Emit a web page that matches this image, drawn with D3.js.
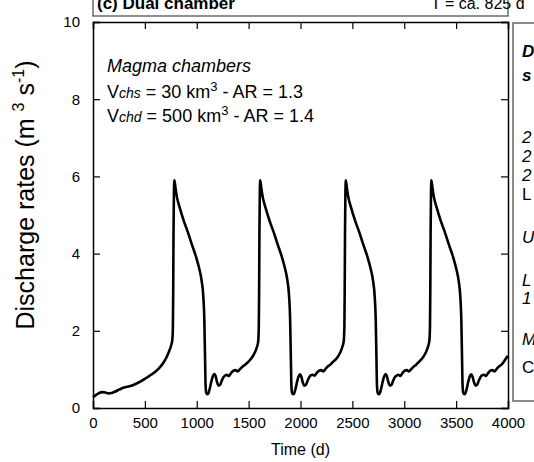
<!DOCTYPE html>
<html>
<head>
<meta charset="utf-8">
<script src="https://cdn.jsdelivr.net/npm/d3@7"></script>
<style>
  html, body { margin: 0; padding: 0; background: #fff; }
  svg { display: block; font-family: "Liberation Sans", Arial, sans-serif; }
</style>
</head>
<body>
<svg id="chart" width="534" height="462"></svg>
<script>
// ---- data ----
const xTicks = [0, 500, 1000, 1500, 2000, 2500, 3000, 3500, 4000];
const yTicks = [0, 2, 4, 6, 8, 10];
const time = [
  0, 30, 60, 90, 120, 150, 180, 210, 240, 270, 300, 330, 360, 400, 440, 480, 520, 560, 600, 640, 680, 710, 735, 755, 765, 770, 773, 776, 780, 785,
  795, 810, 835, 875, 915, 955, 995, 1025, 1047, 1063, 1073, 1080, 1085, 1091, 1100, 1112, 1125, 1140, 1155, 1168, 1180, 1195, 1210, 1225, 1240, 1258, 1275, 1290, 1310, 1330, 1350, 1375, 1395, 1415, 1440, 1465, 1490, 1515, 1540, 1560, 1580, 1592, 1598, 1601, 1604, 1608, 1612,
  1622, 1637, 1662, 1702, 1742, 1782, 1822, 1852, 1874, 1890, 1900, 1907, 1912, 1918, 1927, 1939, 1952, 1967, 1982, 1995, 2007, 2022, 2037, 2052, 2067, 2085, 2102, 2118, 2137, 2157, 2177, 2200, 2220, 2240, 2265, 2290, 2315, 2340, 2365, 2385, 2405, 2417, 2423, 2426, 2429, 2433, 2437,
  2447, 2462, 2487, 2527, 2567, 2607, 2647, 2677, 2699, 2715, 2725, 2732, 2737, 2743, 2752, 2764, 2777, 2792, 2807, 2820, 2832, 2847, 2862, 2877, 2892, 2910, 2927, 2943, 2962, 2982, 3002, 3025, 3045, 3065, 3090, 3115, 3140, 3165, 3190, 3210, 3230, 3242, 3248, 3251, 3254, 3258, 3262,
  3272, 3287, 3312, 3352, 3392, 3432, 3472, 3502, 3524, 3540, 3550, 3557, 3562, 3568, 3577, 3589, 3602, 3617, 3632, 3645, 3657, 3672, 3687, 3702, 3717, 3735, 3752, 3768, 3787, 3807, 3827, 3850, 3870, 3890, 3915, 3940, 3965, 3985, 4000
];
const discharge = [
  0.28, 0.34, 0.39, 0.41, 0.40, 0.38, 0.39, 0.42, 0.46, 0.50, 0.53, 0.55, 0.57, 0.61, 0.66, 0.72, 0.79, 0.86, 0.94, 1.04, 1.18, 1.32, 1.48, 1.64, 1.78, 2.1, 3.0, 4.5, 5.6, 5.9,
  5.7, 5.45, 5.2, 4.85, 4.55, 4.22, 3.9, 3.6, 3.3, 2.9, 2.3, 1.3, 0.6, 0.4, 0.36, 0.38, 0.5, 0.68, 0.82, 0.88, 0.84, 0.68, 0.58, 0.6, 0.7, 0.8, 0.84, 0.86, 0.83, 0.9, 0.96, 0.98, 0.95, 1.0, 1.07, 1.12, 1.18, 1.25, 1.34, 1.44, 1.58, 1.72, 2.1, 3.0, 4.5, 5.6, 5.9,
  5.7, 5.45, 5.2, 4.85, 4.55, 4.22, 3.9, 3.6, 3.3, 2.9, 2.3, 1.3, 0.6, 0.4, 0.36, 0.38, 0.5, 0.68, 0.82, 0.87, 0.82, 0.66, 0.58, 0.6, 0.7, 0.8, 0.85, 0.86, 0.84, 0.91, 0.96, 0.98, 0.95, 1.01, 1.08, 1.13, 1.2, 1.26, 1.35, 1.45, 1.6, 1.74, 2.1, 3.0, 4.5, 5.6, 5.9,
  5.7, 5.45, 5.2, 4.85, 4.55, 4.22, 3.9, 3.6, 3.3, 2.9, 2.3, 1.3, 0.6, 0.4, 0.36, 0.38, 0.5, 0.68, 0.82, 0.88, 0.83, 0.67, 0.58, 0.6, 0.7, 0.8, 0.84, 0.86, 0.83, 0.9, 0.96, 0.98, 0.95, 1.0, 1.07, 1.12, 1.19, 1.26, 1.35, 1.45, 1.6, 1.74, 2.1, 3.0, 4.5, 5.6, 5.9,
  5.7, 5.45, 5.2, 4.85, 4.55, 4.22, 3.9, 3.6, 3.3, 2.9, 2.3, 1.3, 0.6, 0.4, 0.36, 0.38, 0.5, 0.68, 0.82, 0.87, 0.82, 0.67, 0.58, 0.6, 0.7, 0.8, 0.85, 0.86, 0.83, 0.9, 0.96, 0.98, 0.95, 1.01, 1.08, 1.13, 1.22, 1.3, 1.35
];
const panelTitle = "(c) Dual chamber";
const periodLabel = "T = ca. 825 d";
const sideNotes = [
  {text: "Data used", style: "bi"},
  {text: "s imulations", style: "bi"},
  {text: "2", style: "i"},
  {text: "2", style: "i"},
  {text: "2", style: "i"},
  {text: "L", style: "n"},
  {text: "U", style: "i"},
  {text: "L", style: "i"},
  {text: "1", style: "i"},
  {text: "M", style: "i"},
  {text: "C", style: "n"}
];
const sideBaselines = [57, 81, 143, 162, 181, 200, 243, 286, 304, 345, 373];

// ---- layout ----
const svg = d3.select("#chart");
const m = {left: 93, right: 508, top: 22, bottom: 408};
const x = d3.scaleLinear().domain([0, 4000]).range([m.left, m.right]);
const y = d3.scaleLinear().domain([0, 10]).range([m.bottom, m.top]);

// title box
svg.append("rect").attr("x", 93).attr("y", -10).attr("width", 415).attr("height", 26)
  .attr("fill", "#fff").attr("stroke", "#555").attr("stroke-width", 1.3);
svg.append("text").attr("x", 97).attr("y", 9).attr("font-size", 17).attr("font-weight", "bold")
  .text(panelTitle);
svg.append("text").attr("x", 431).attr("y", 9).attr("font-size", 16).text(periodLabel);

// right side box
svg.append("rect").attr("x", 513).attr("y", 23).attr("width", 60).attr("height", 378)
  .attr("fill", "#fff").attr("stroke", "#666").attr("stroke-width", 1.5);
sideNotes.forEach((d, i) => {
  svg.append("text").attr("x", 522).attr("y", sideBaselines[i]).attr("font-size", 17)
    .attr("font-weight", d.style === "bi" ? "bold" : "normal")
    .attr("font-style", d.style === "n" ? "normal" : "italic")
    .text(d.text);
});

// axes
const fmt = d3.format("d");
const gx = svg.append("g").attr("transform", `translate(0,${m.bottom})`)
  .call(d3.axisBottom(x).tickValues(xTicks).tickSize(-7).tickPadding(9).tickFormat(fmt));
const gxt = svg.append("g").attr("transform", `translate(0,${m.top})`)
  .call(d3.axisTop(x).tickValues(xTicks).tickSize(-7).tickFormat(""));
const gy = svg.append("g").attr("transform", `translate(${m.left},0)`)
  .call(d3.axisLeft(y).tickValues(yTicks).tickSize(-7).tickPadding(13).tickFormat(fmt));
const gyr = svg.append("g").attr("transform", `translate(${m.right},0)`)
  .call(d3.axisRight(y).tickValues(yTicks).tickSize(-7).tickFormat(""));
[gx, gxt, gy, gyr].forEach(g => {
  g.select(".domain").attr("stroke", "#000").attr("stroke-width", 1.5);
  g.selectAll(".tick line").attr("stroke", "#000").attr("stroke-width", 1.2);
  g.selectAll("text").attr("font-size", 15).attr("fill", "#000")
    .attr("font-family", "'Liberation Sans', Arial, sans-serif");
});

// line
const pts = time.map((t, i) => [t, discharge[i]]);
const line = d3.line().x(d => x(d[0])).y(d => y(d[1])).curve(d3.curveMonotoneX);
svg.append("path").datum(pts).attr("d", line).attr("fill", "none")
  .attr("stroke", "#000").attr("stroke-width", 2.6).attr("stroke-linejoin", "round");

// annotation
const ann = svg.append("g").attr("font-size", 18);
ann.append("text").attr("x", 107).attr("y", 72).attr("font-style", "italic").text("Magma chambers");
const l1 = ann.append("text").attr("x", 107).attr("y", 98);
l1.append("tspan").text("V");
l1.append("tspan").attr("font-style", "italic").attr("font-size", 14).text("chs");
l1.append("tspan").text(" = 30 km");
l1.append("tspan").attr("font-size", 13).attr("dy", -7).text("3");
l1.append("tspan").attr("dy", 7).text("  - AR = 1.3");
const l2 = ann.append("text").attr("x", 107).attr("y", 122);
l2.append("tspan").text("V");
l2.append("tspan").attr("font-style", "italic").attr("font-size", 14).text("chd");
l2.append("tspan").text(" = 500 km");
l2.append("tspan").attr("font-size", 13).attr("dy", -7).text("3");
l2.append("tspan").attr("dy", 7).text(" - AR = 1.4");

// axis titles
svg.append("text").attr("x", (m.left + m.right) / 2).attr("y", 455).attr("text-anchor", "middle")
  .attr("font-size", 16).text("Time (d)");
const yl = svg.append("text").attr("transform", "translate(34,195) rotate(-90)")
  .attr("text-anchor", "middle").attr("font-size", 25);
yl.append("tspan").text("Discharge rates (m ");
yl.append("tspan").attr("font-size", 16).attr("dy", -10).text("3");
yl.append("tspan").attr("dy", 10).text(" s");
yl.append("tspan").attr("font-size", 16).attr("dy", -10).text("-1");
yl.append("tspan").attr("dy", 10).text(")");
</script>
</body>
</html>
